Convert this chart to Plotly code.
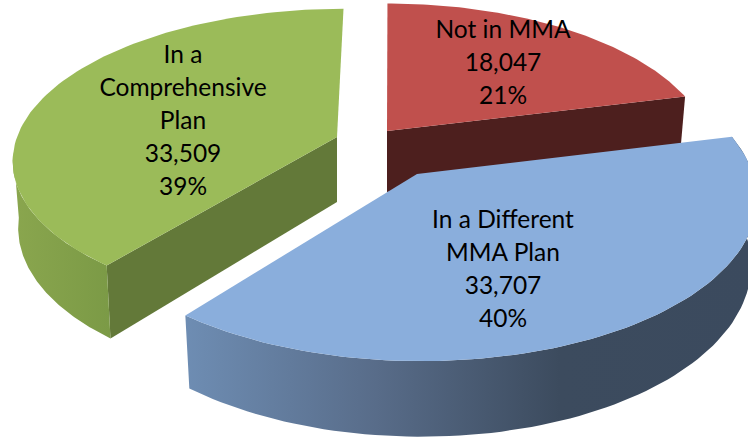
import math
import plotly.graph_objects as go

# ---- data ----
categories = ["Not in MMA", "In a Different MMA Plan", "In a Comprehensive Plan"]
label_lines = [["Not in MMA"], ["In a Different", "MMA Plan"], ["In a", "Comprehensive", "Plan"]]
values = [18047, 33707, 33509]

# ---- styles ----
top_colors = ["#C0504D", "#8AAEDC", "#9BBB59"]
inner_colors = ["#4D1F1E", "#3B4A5E", "#637939"]
wall_scales = [
    [[0, "#8C3B39"], [1, "#6E2B2A"]],
    [[0, "#6E8DB3"], [0.335, "#586C89"], [0.655, "#3C4B5E"], [1, "#3B4A5E"]],
    [[0, "#8AA64E"], [1, "#7B9A46"]],
]
apex = [(387, 131), (417, 174), (337, 137)]
radius = [320, 336, 320]
squash = [0.47, 0.479, 0.457]
persp = [0.18, 0.14, 0.14]
height = [61, 65, 65]
label_pos = [(503, 31.5), (503, 221.5), (183, 56.5)]
LINE_STEP = 33
VX, SHRINK = 390, 0.983


def project(i, theta, r, z=0):
    """ground polar position in slice i -> picture coordinates"""
    X = r * math.sin(theta)
    Y = r * math.cos(theta)
    s = 1 / (1 + persp[i] * Y / radius[i])
    f = SHRINK if z else 1
    ax, ay = apex[i]
    return VX + s * (ax - VX + X * f), ay - s * Y * squash[i] + z * s * height[i]


def arc(i, a0, a1, z=0, reverse=False):
    n = 90
    pts = [project(i, a0 + (a1 - a0) * j / n, radius[i], z) for j in range(n + 1)]
    return pts[::-1] if reverse else pts


total = sum(values)
bounds = [0]
for v in values:
    bounds.append(bounds[-1] + v / total * 2 * math.pi)

fig = go.Figure()


def poly(pts, color=None, scale=None):
    xs = [p[0] for p in pts] + [pts[0][0]]
    ys = [p[1] for p in pts] + [pts[0][1]]
    kw = dict(fillcolor=color) if color else dict(
        fillgradient=dict(type="horizontal", colorscale=scale))
    fig.add_trace(go.Scatter(x=xs, y=ys, mode="lines", fill="toself",
                             line=dict(width=0), hoverinfo="skip", showlegend=False, **kw))


for i in (2, 0, 1):
    a0, a1 = bounds[i], bounds[i + 1]
    # radial wall facing the viewer
    if i == 0:
        poly([project(i, 0, 0), project(i, a1, radius[i]), project(i, a1, radius[i], 1), project(i, 0, 0, 1)], inner_colors[i])
    elif i == 2:
        poly([project(i, 0, 0), project(i, a0, radius[i]), project(i, a0, radius[i], 1), project(i, 0, 0, 1)], inner_colors[i])
    # outer rounded wall: the part that faces the viewer
    if i == 1:
        poly(arc(i, a0, a1) + arc(i, a0, a1, 1, True), scale=wall_scales[i])
    elif i == 2:
        end = 1.5 * math.pi - 0.1
        poly(arc(i, a0, end) + arc(i, a0, end, 1, True), scale=wall_scales[i])
    # top face
    poly([project(i, 0, 0)] + arc(i, a0, a1), top_colors[i])

# ---- labels ----
tx, ty, tt = [], [], []
for i in range(3):
    lines = label_lines[i] + [f"{values[i]:,}", f"{round(values[i] / total * 100)}%"]
    for j, line in enumerate(lines):
        tx.append(label_pos[i][0])
        ty.append(label_pos[i][1] + j * LINE_STEP)
        tt.append(line)
fig.add_trace(go.Scatter(x=tx, y=ty, text=tt, mode="text", textposition="middle center",
                         textfont=dict(family="Lato", size=24.5, color="#000000"),
                         hoverinfo="skip", showlegend=False))

fig.update_layout(
    width=748, height=442, margin=dict(l=0, r=0, t=0, b=0),
    paper_bgcolor="white", plot_bgcolor="white", showlegend=False,
    xaxis=dict(range=[0, 748], visible=False, fixedrange=True),
    yaxis=dict(range=[442, 0], visible=False, fixedrange=True),
)
fig.write_html("out.html", config=dict(displayModeBar=False),
               post_script="document.body.style.margin='0';document.body.style.overflow='hidden';")
